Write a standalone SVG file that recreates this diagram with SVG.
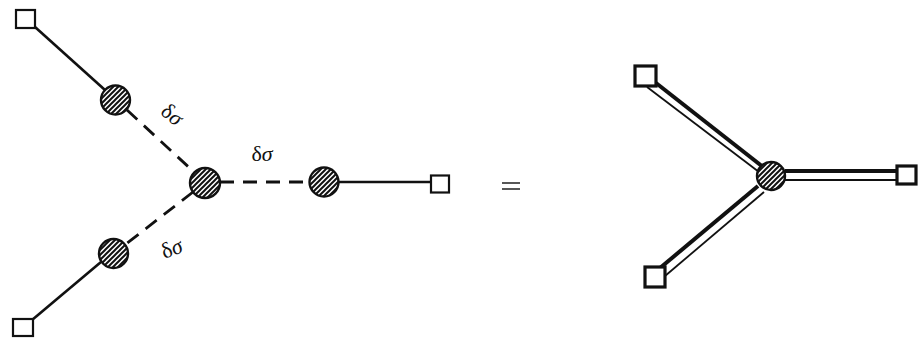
<svg xmlns="http://www.w3.org/2000/svg" width="922" height="341" viewBox="0 0 922 341">
<defs>
<pattern id="hatch" patternUnits="userSpaceOnUse" width="5" height="5">
<rect width="5" height="5" fill="#fff"/>
<path d="M-1,1 l2,-2 M0,5 l5,-5 M4,6 l2,-2" stroke="#111" stroke-width="2"/>
</pattern>
<style>
.sq{fill:#fff;stroke:#111;stroke-width:2.2}
.sq3{fill:#fff;stroke:#111;stroke-width:3.2}
.ci{fill:url(#hatch);stroke:#111;stroke-width:2.4}
.solid{stroke:#111;stroke-width:2.6;fill:none}
.dash{stroke:#111;stroke-width:2.8;fill:none;stroke-dasharray:14 9}
.thick{stroke:#111;stroke-width:4;fill:none}
.thin{stroke:#111;stroke-width:1.8;fill:none}
.lbl{font-family:"Liberation Serif","DejaVu Serif",serif;font-size:22px;fill:#111}
</style>
</defs>
<rect width="922" height="341" fill="#fff"/>
<g id="connectors">
<line class="solid" x1="35" y1="27" x2="105" y2="90"/>
<line class="dash" x1="127" y1="110" x2="194" y2="172"/>
<line class="dash" x1="220" y1="182" x2="309" y2="182"/>
<line class="solid" x1="339" y1="182" x2="431" y2="182"/>
<line class="dash" x1="193" y1="192" x2="126" y2="244"/>
<line class="solid" x1="101" y1="262" x2="32" y2="320"/>
<line class="thick" x1="656" y1="83" x2="763" y2="167"/>
<line class="thin" x1="647" y1="87" x2="759" y2="172"/>
<line class="thick" x1="785" y1="171" x2="897" y2="171"/>
<line class="thin" x1="785" y1="180" x2="897" y2="180"/>
<line class="thick" x1="660" y1="268" x2="758" y2="186"/>
<line class="thin" x1="665" y1="276" x2="764" y2="192"/>
<line x1="502" y1="183" x2="520" y2="183" stroke="#444" stroke-width="1.8"/>
<line x1="502" y1="189" x2="520" y2="189" stroke="#444" stroke-width="1.8"/>
</g>
<g id="sq-tl"><rect class="sq" x="16" y="10" width="19" height="18"/></g>
<g id="sq-r"><rect class="sq" x="431" y="175.5" width="18" height="17"/></g>
<g id="sq-bl"><rect class="sq" x="13" y="319" width="20" height="17"/></g>
<g id="c-tl"><circle class="ci" cx="115.5" cy="100" r="14.5"/></g>
<g id="c-center"><circle class="ci" cx="205" cy="183" r="15"/></g>
<g id="c-r"><circle class="ci" cx="324" cy="182" r="14.5"/></g>
<g id="c-bl"><circle class="ci" cx="113.5" cy="253.5" r="14.5"/></g>
<g id="lbl-tl"><text class="lbl" transform="translate(172.5,114) rotate(38)" text-anchor="middle" dominant-baseline="central">δ<tspan font-style="italic">σ</tspan></text></g>
<g id="lbl-center"><text class="lbl" x="262" y="161" text-anchor="middle">δ<tspan font-style="italic">σ</tspan></text></g>
<g id="lbl-bl"><text class="lbl" transform="translate(171.5,248) rotate(-22)" text-anchor="middle" dominant-baseline="central">δ<tspan font-style="italic">σ</tspan></text></g>
<g id="r-sq-tl"><rect class="sq3" x="635" y="66" width="21" height="20"/></g>
<g id="r-sq-r"><rect class="sq3" x="897" y="166" width="19" height="18"/></g>
<g id="r-sq-bl"><rect class="sq3" x="645" y="267" width="20" height="20"/></g>
<g id="r-center"><circle class="ci" cx="771" cy="176" r="14"/></g>
</svg>
